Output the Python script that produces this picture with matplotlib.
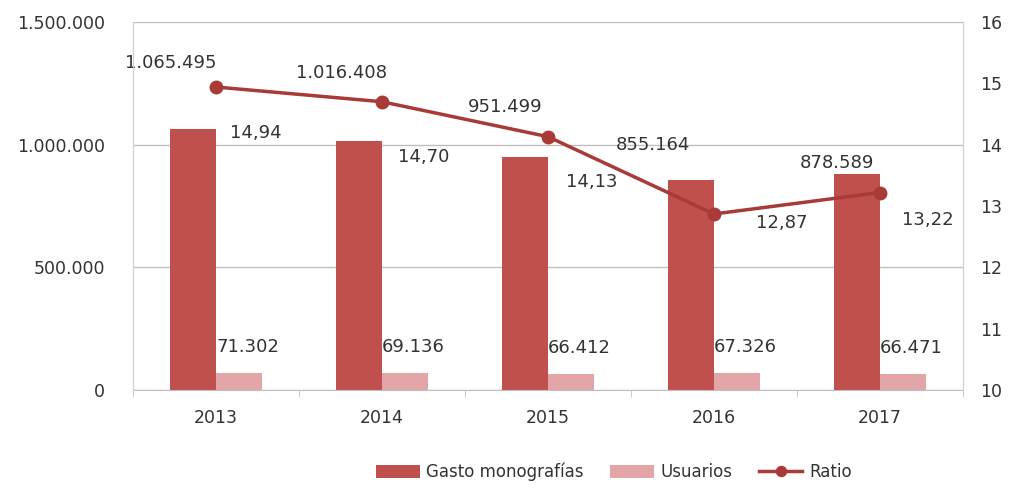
import matplotlib
matplotlib.use("Agg")
import matplotlib.pyplot as plt
import numpy as np
from matplotlib.ticker import FuncFormatter, FixedLocator

years = ["2013", "2014", "2015", "2016", "2017"]
gasto = [1065495, 1016408, 951499, 855164, 878589]
usuarios = [71302, 69136, 66412, 67326, 66471]
ratio = [14.94, 14.70, 14.13, 12.87, 13.22]

# label offsets in pixels (layout only)
gasto_off = [(-22, 66), (-17, 68), (-20, 50), (-38, 35), (-20, 11)]
ratio_off = [(40, -46), (42, -55), (44, -45), (68, -9), (48, -27)]

DARK = "#C0504D"
LIGHT = "#E3A5A8"
LINE = "#A83A38"
TXT = "#333333"

plt.rcParams["font.family"] = ["DejaVu Sans"]

def thousands(v):
    return f"{int(round(v)):,}".replace(",", ".")

fig = plt.figure(figsize=(10.17, 4.91), dpi=100)
ax = fig.add_axes([133/1017, 1 - 390/491, 830/1017, 368/491])
ax2 = ax.twinx()

x = np.arange(len(years))
bw = 0.28
ax.bar(x - bw/2, gasto, width=bw, color=DARK, label="Gasto monografías", zorder=2)
ax.bar(x + bw/2, usuarios, width=bw, color=LIGHT, label="Usuarios", zorder=2)
ax2.plot(x, ratio, color=LINE, lw=2.5, marker="o", ms=9, label="Ratio", zorder=3)

ax.set_xlim(-0.5, len(years) - 0.5)
ax.set_ylim(0, 1500000)
ax2.set_ylim(10, 16)
ax.set_yticks([0, 500000, 1000000, 1500000])
ax.yaxis.set_major_formatter(FuncFormatter(lambda v, p: thousands(v)))
ax2.set_yticks(range(10, 17))

ax.set_xticks(x)
ax.set_xticklabels(years)
ax.xaxis.set_minor_locator(FixedLocator(np.arange(-0.5, len(years), 1.0)))
ax.tick_params(axis="x", which="major", length=0, pad=14, labelsize=12.5, colors=TXT)
ax.tick_params(axis="x", which="minor", length=5, color="#BFBFBF")
ax.tick_params(axis="y", length=0, pad=20, labelsize=12.5, colors=TXT)
ax2.tick_params(axis="y", length=0, pad=12, labelsize=12.5, colors=TXT)

ax.grid(axis="y", color="#BFBFBF", lw=1, zorder=0)
ax.set_axisbelow(True)
for a in (ax, ax2):
    a.spines["top"].set_visible(False)
    a.spines["left"].set_color("#D0D0D0")
    a.spines["right"].set_color("#D0D0D0")
    a.spines["bottom"].set_color("#BFBFBF")
ax2.spines["bottom"].set_visible(False)

for i, v in enumerate(gasto):
    ax.annotate(thousands(v), (x[i] - bw/2, v), xytext=gasto_off[i], textcoords="offset pixels",
                ha="center", va="center", fontsize=13, color=TXT, zorder=5)
for i, v in enumerate(usuarios):
    ax.annotate(thousands(v), (x[i], v), xytext=(0, 26), textcoords="offset pixels",
                ha="left", va="center", fontsize=13, color=TXT, zorder=5)
for i, v in enumerate(ratio):
    ax2.annotate(f"{v:.2f}".replace(".", ","), (x[i], v), xytext=ratio_off[i], textcoords="offset pixels",
                 ha="center", va="center", fontsize=13, color=TXT, zorder=5)

h1, l1 = ax.get_legend_handles_labels()
h2, l2 = ax2.get_legend_handles_labels()
fig.legend(h1 + h2, l1 + l2, loc="center", bbox_to_anchor=(614/1017, 1 - 472/491), ncol=3,
           frameon=False, fontsize=12, handlelength=2.6, handleheight=0.8, columnspacing=1.6,
           handletextpad=0.4, markerscale=0.8, labelcolor=TXT)

fig.savefig("out.png", dpi=100)
